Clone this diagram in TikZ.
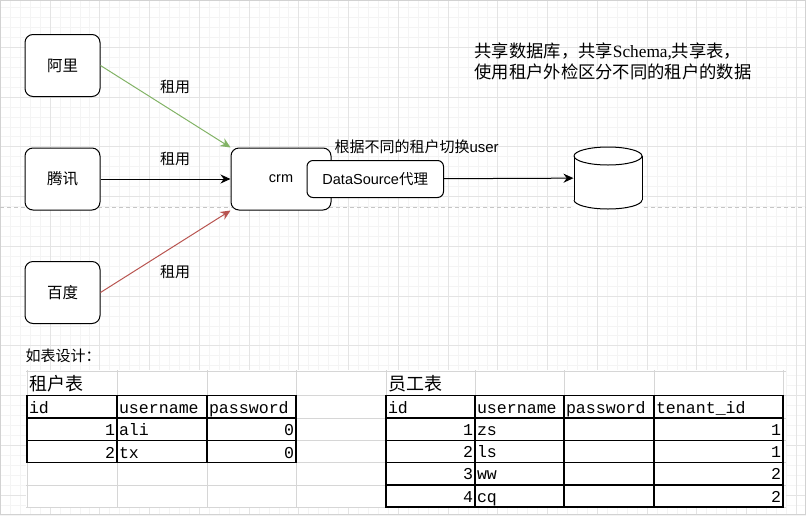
\documentclass[tikz,border=0pt]{standalone}
\usepackage{fontspec}
\setmainfont{Liberation Sans}
\setmonofont{Liberation Mono}
\newfontfamily\cjk{Noto Sans CJK SC}
\newfontfamily\latinserif{Liberation Serif}
\usepackage{tikz}
\usetikzlibrary{arrows.meta,positioning,calc}
\definecolor{gridminor}{HTML}{F4F4F4}
\definecolor{gridmajor}{HTML}{E4E4E4}
\definecolor{xlsline}{HTML}{D6D6D6}
\definecolor{rentgreen}{HTML}{82B366}
\definecolor{rentred}{HTML}{B85450}

\begin{document}
\begin{tikzpicture}[x=1pt, y=-1pt, line width=1pt, >={Stealth[length=10pt,width=9pt]}]
\tikzstyle{tenant}=[rectangle,
                    draw=black,
                    fill=white,
                    rounded corners=8pt,
                    minimum width=75pt, minimum height=62pt,
                    inner sep=0pt,
                    font=\cjk\fontsize{15.5}{18}\selectfont]
\tikzstyle{server}=[rectangle,
                    draw=black,
                    fill=white,
                    rounded corners=8pt,
                    minimum width=100pt, minimum height=62pt,
                    inner sep=0pt,
                    font=\fontsize{14.5}{17}\selectfont]
\tikzstyle{proxy}=[rectangle,
                   draw=black,
                   fill=white,
                   rounded corners=6pt,
                   minimum width=136.5pt, minimum height=37pt,
                   inner sep=0pt,
                   font=\fontsize{14.5}{17}\selectfont]
\tikzstyle{database}=[rectangle, minimum width=68pt, minimum height=62pt, inner sep=0pt]
\tikzstyle{rent}=[inner sep=0pt, font=\cjk\fontsize{15}{18}\selectfont]
\tikzstyle{note}=[inner sep=0pt, anchor=base west, font=\cjk\fontsize{17.3}{21}\selectfont]
\tikzstyle{title}=[inner sep=0pt, anchor=west, font=\cjk\fontsize{18}{21}\selectfont]
\tikzstyle{cell}=[inner sep=0pt, font=\ttfamily\fontsize{16.6}{18}\selectfont]
\useasboundingbox (0,0) rectangle (806,515);

% canvas grid
\foreach \i in {0,...,81}
  \draw[gridminor, line width=0.8pt] ({0.3+9.95*\i},0) -- ({0.3+9.95*\i},515);
\foreach \i in {1,...,52}
  \draw[gridminor, line width=0.8pt] (0,{-2.45+9.95*\i}) -- (806,{-2.45+9.95*\i});
\foreach \i in {0,...,16}
  \draw[gridmajor, line width=0.8pt] ({0.3+49.75*\i},0) -- ({0.3+49.75*\i},515);
\foreach \i in {1,...,10}
  \draw[gridmajor, line width=0.8pt] (0,{-2.45+49.75*\i}) -- (806,{-2.45+49.75*\i});
\draw[gray!35] (0.5,0.5) rectangle (805.5,514.5);
\draw[gray!45, dash pattern=on 4pt off 3pt] (0,207.3) -- (806,207.3);

\node[tenant] (ali) at (62.5,65.5) {阿里};
\node[tenant, below=50.5pt of ali] (tencent) {腾讯};
\node[tenant, below=50.5pt of tencent] (baidu) {百度};

\node[server, right=130pt of tencent] (crm) {crm};
\node[proxy, right=-25pt of crm] (proxy) {DataSource{\cjk 代理}};
\node[database] (db) at (608,178) {};
% cylinder outline
\fill[white] (574,147) rectangle (642,209);
\draw (574,156) -- (574,200);
\draw (642,156) -- (642,200);
\draw (574,200) arc[start angle=180, end angle=360, x radius=34pt, y radius=9pt];
\draw (574,156) arc[start angle=180, end angle=540, x radius=34pt, y radius=9pt];

\node[rent] (rentali) at (175,87) {租用};
\node[rent] (renttencent) at (175,159) {租用};
\node[rent] (rentbaidu) at (175,272) {租用};
\node[rent, anchor=west] (switch) at (334,147) {根据不同的租户切换{\fontfamily{\rmdefault}\selectfont user}};

\node[note] (schema) at (474,57.5)
  {共享数据库，共享{\latinserif Schema,}共享表，};
\node[note] (schemanote) at (474,78.5) {使用租户外检区分不同的租户的数据};

\path[->]
(ali.east) edge[rentgreen] (crm.north west)
(tencent) edge (crm)
(baidu.east) edge[rentred] (crm.south west)
(proxy) edge (db);

% spreadsheet part
\node[rent, anchor=west] (design) at (25,356) {如表设计：};
\fill[white] (26,370) rectangle (786,508);
\foreach \y in {371,395.5,418,440.5,462.5,485,507}
  \draw[xlsline] (26,\y) -- (786,\y);
\foreach \x in {27,117,207,296,386,475,564,654,783}
  \draw[xlsline] (\x,370) -- (\x,508);

\node[title] (tenanttab) at (28.5,384) {租户表};
\node[title] (stafftab) at (388,384) {员工表};

\draw[line width=1.2pt] (27,395.5) rectangle (296,462.5);
\draw[line width=1.2pt] (117,395.5) -- (117,462.5) (207,395.5) -- (207,462.5)
  (27,418) -- (296,418) (27,440.5) -- (296,440.5);
\draw[line width=1.2pt] (386,395.5) rectangle (783,507);
\draw[line width=1.2pt] (475,395.5) -- (475,507) (564,395.5) -- (564,507) (654,395.5) -- (654,507)
  (386,418) -- (783,418) (386,440.5) -- (783,440.5) (386,462.5) -- (783,462.5) (386,485) -- (783,485);

\node[cell, anchor=base west] (tidhead) at (28.5,413) {id};
\node[cell, anchor=base west] (tuserhead) at (118.5,413) {username};
\node[cell, anchor=base west] (tpwhead) at (208.5,413) {password};
\foreach \n/\user/\pw [count=\r] in {1/ali/0, 2/tx/0} {
  \node[cell, anchor=base east] (tid-\r) at (115.5,{413+22.5*\r}) {\n};
  \node[cell, anchor=base west] (tuser-\r) at (118.5,{413+22.5*\r}) {\user};
  \node[cell, anchor=base east] (tpw-\r) at (294.5,{413+22.5*\r}) {\pw};
}

\node[cell, anchor=base west] (sidhead) at (387.5,413) {id};
\node[cell, anchor=base west] (suserhead) at (476.5,413) {username};
\node[cell, anchor=base west] (spwhead) at (565.5,413) {password};
\node[cell, anchor=base west] (stenanthead) at (655.5,413) {tenant\_id};
\foreach \n/\user/\tid [count=\r] in {1/zs/1, 2/ls/1, 3/ww/2, 4/cq/2} {
  \node[cell, anchor=base east] (sid-\r) at (473.5,{413+22.3*\r}) {\n};
  \node[cell, anchor=base west] (suser-\r) at (476.5,{413+22.3*\r}) {\user};
  \node[cell, anchor=base east] (stenant-\r) at (781.5,{413+22.3*\r}) {\tid};
}
\end{tikzpicture}
\end{document}
